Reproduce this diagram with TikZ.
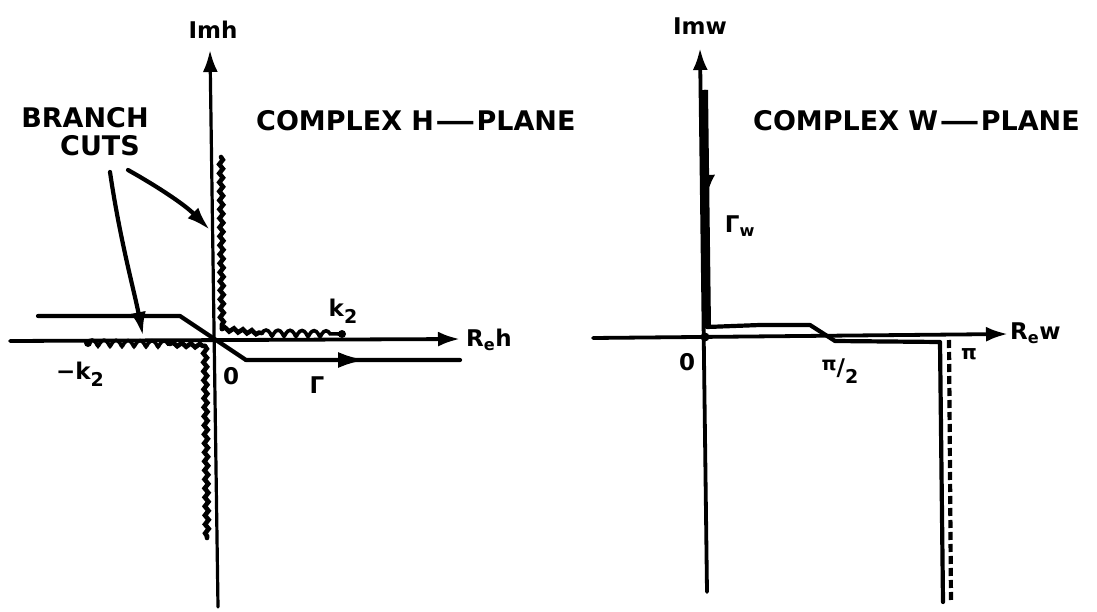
\documentclass[tikz,border=0pt]{standalone}
\usepackage{fontspec}
\setmainfont{DejaVu Sans}
\usetikzlibrary{arrows.meta,decorations.pathmorphing}
\newcommand\mysub[1]{\raisebox{-0.32em}{\fontsize{19}{19}\selectfont #1}}
\newcommand\longdash{\scalebox{1.5}[1]{—}}
\begin{document}
\begin{tikzpicture}[x=1pt,y=-1pt,
  axis/.style={line width=3.8pt, line cap=round},
  axtip/.style={-{Latex[length=22pt,width=15pt]}},
  contour/.style={line width=4.2pt, line cap=round, line join=round},
  cut/.style={line width=4.6pt, line cap=round, decorate,
    decoration={snake,amplitude=1.8pt,segment length=9pt}},
  loopcut/.style={line width=3.6pt, decorate,
    decoration={coil,amplitude=3pt,segment length=12pt,aspect=0.35}},
  ptr/.style={line width=4.2pt, line cap=round, -{Latex[length=24pt,width=15pt]}},
  lab/.style={font=\bfseries\fontsize{27}{27}\selectfont, inner sep=0pt},
  slab/.style={font=\bfseries\fontsize{23}{23}\selectfont, inner sep=0pt},
]
\useasboundingbox (0,0) rectangle (1097,612);

% ---------------- left: complex h-plane ----------------
\coordinate (hvb) at (218,607);
\coordinate (hvt) at (210,50);
\coordinate (hhl) at (10,341);
\coordinate (hhr) at (460,339);
\draw[axis, line width=3.2pt, axtip] (hvb) -- (hvt);
\draw[axis, axtip] (hhl) -- (hhr);
\node[slab] (imh) at (213,30) {Imh};
\node[slab, anchor=west] (reh) at (466,340) {R\textsubscript{e}h};
\node[slab] (zeroh) at (231,376) {0};

% contour Gamma
\coordinate (g1) at (38,316);
\coordinate (g2) at (180,316);
\coordinate (g3) at (246,360);
\coordinate (gm) at (366,360);
\coordinate (g4) at (460,360);
\draw[contour] (g1) -- (g2) -- (g3) -- (g4);
\draw[contour, -{Latex[length=28pt,width=16pt]}] (g3) -- (gm);
\node[slab] (gam) at (317,385) {Γ};

% branch cuts
\coordinate (c1) at (221,157);
\coordinate (c2) at (222,329);
\coordinate (c3) at (262,333);
\coordinate (c4) at (342,334);
\draw[cut] (c1) -- (c2);
\draw[cut] (c2) -- (c3);
\draw[loopcut] (c3) -- (c4);
\fill (c4) circle (4pt);

\coordinate (d1) at (88,343);
\coordinate (d2) at (170,344);
\coordinate (d3) at (205,346);
\coordinate (d4) at (207,538);
\fill (d1) circle (4pt);
\draw[loopcut] (d1) -- (d2);
\draw[cut] (d2) -- (d3);
\draw[cut] (d3) -- (d4);

\node[slab] (k2) at (343,311) {k\mysub{2}};
\node[slab] (mk2) at (80,374) {−k\mysub{2}};

% labels and pointers
\node[lab] (branch) at (85,118) {BRANCH};
\node[lab] (cuts) at (100,146) {CUTS};
\coordinate (a1s) at (110,172);
\coordinate (a1e) at (143,336);
\coordinate (a2s) at (128,170);
\coordinate (a2e) at (210,230);
\draw[ptr] (a1s) .. controls (120,240) and (134,290) .. (a1e);
\draw[ptr] (a2s) .. controls (160,188) and (185,205) .. (a2e);
\node[lab, anchor=west] (hplane) at (256,121) {COMPLEX H\kern1pt\longdash\kern1pt PLANE};

% ---------------- right: complex w-plane ----------------
\coordinate (wvb) at (707,592);
\coordinate (wvt) at (700,48);
\coordinate (whl) at (593,338);
\coordinate (whr) at (1008,334);
\draw[axis, axtip] (wvb) -- (wvt);
\draw[axis, axtip] (whl) -- (whr);
\coordinate (O2) at (705,337);
\fill (O2) circle (4.5pt);
\node[slab] (imw) at (700,26) {Imw};
\node[slab, anchor=west] (rew) at (1010,333) {R\textsubscript{e}w};
\node[slab] (zerow) at (687,362) {0};

% contour Gamma_w
\coordinate (w1) at (704,90);
\coordinate (wa) at (707,205);
\coordinate (w2) at (707,327);
\coordinate (w3) at (760,325);
\coordinate (w4) at (810,325);
\coordinate (w5) at (835,341);
\coordinate (w6) at (940,342);
\coordinate (w7) at (943,602);
\draw[line width=8pt] (w1) -- (w2);
\draw[line width=4.5pt, -{Latex[length=22pt,width=18pt,harpoon]}] (w1) -- (wa);
\draw[contour] (w2) -- (w3) -- (w4) -- (w5) -- (w6) -- (w7);
\draw[line width=4.2pt, dash pattern=on 8pt off 4pt] (949,340) -- (951,602);
\node[slab] (gw) at (740,226) {Γ\textsubscript{w}};
\node[slab] (pi2) at (840,371) {\raisebox{5pt}{\fontsize{19}{19}\selectfont π}/\mysub{2}};
\node[slab, font=\bfseries\fontsize{20}{20}\selectfont] (pi) at (969,354) {π};
\node[lab, anchor=west] (wplane) at (753,121) {COMPLEX W\kern1pt\longdash\kern1pt PLANE};
\end{tikzpicture}
\end{document}
